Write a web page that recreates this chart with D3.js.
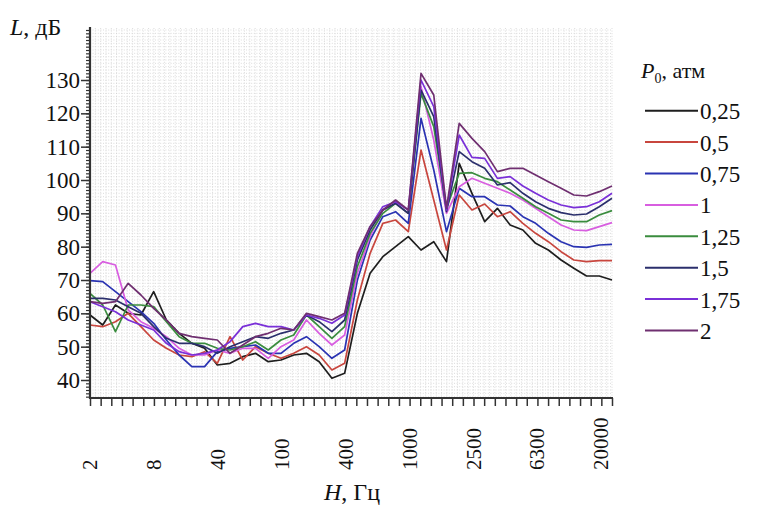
<!DOCTYPE html>
<html><head><meta charset="utf-8">
<script src="https://cdn.jsdelivr.net/npm/d3@7"></script>
<style>
html,body{margin:0;padding:0;background:#fff;}
svg{display:block;}
</style></head>
<body>
<svg id="chart" width="761" height="513"></svg>
<script>
// ---- data ----
const freqs = ["1.6","2","2.5","3.15","4","5","6.3","8","10","12.5","16","20","25","31.5","40","50","63","80","100","125","160","200","250","315","400","500","630","800","1000","1250","1600","2000","2500","3150","4000","5000","6300","8000","10000","12500","16000","20000"];
const seriesNames = ["0,25","0,5","0,75","1","1,25","1,5","1,75","2"];
const s025 = [59.5,56.5,62.5,60,59.5,66.5,58,54,51,49.5,44.5,45,47,48,45.5,46,47.5,48,45.5,40.5,42,60,72,77,80,83,79,81.5,75.5,105,96,87.5,91.5,86.5,85,81,79,76,73.5,71.2,71.2,70];
const s05  = [56.5,56,57.5,60,56,52,49.5,47.5,47,48.5,45,53,46,50,48,46.5,48,50,47.5,43,45,64,78,87,88,84.5,109,94,79,95.5,91,92.8,89,90.5,87,84,81.5,78.5,76,75.5,75.8,75.8];
const s075 = [69.8,69.5,66.5,63.5,60.5,57,52,47.5,44,44,48.5,49.5,50,50.5,48,48,51,53,50,46.5,49,70,82,89,90.5,87,118.5,103,84.5,97.5,95,95,92.5,92.2,89,87,84,81.5,80,79.8,80.5,80.7];
const s1   = [72,75.5,74.5,61,57.5,55.5,53,49.5,47.5,47.5,49,48,49.5,49.5,46.5,50,52,58,54,50.5,53.5,72,83,91,93,90,128,112,90,98,100.5,99,97.5,96,94,91.5,89,86.5,85,84.8,86,87.2];
const s125 = [66,62.5,54.5,62.5,62.5,62,57.5,53,51,51,49.5,49,50,51.5,49,52,53.5,59.5,56,52.5,56,74,84,90,93,90,126,116,91.5,102,102.2,100.5,99.5,97,94.5,92,90,88,87.5,87.5,89.5,90.8];
const s15  = [64.5,64.5,64,62,60,56,52.5,51,51,50,48,50,51.5,53,52.5,54,55,59.5,57.5,54.5,58,76,85,91,93,90,127,119,90.5,108.5,105.5,103.5,98.5,99.2,96,93.5,91.5,90.2,89.5,89.8,92,94.5];
const s175 = [63.5,62,60.5,58,56.5,55,51,48.5,47.5,48,49,51.5,56,57,56,56,55,59.5,58.5,57,59.5,77,86,92,93.5,91,130,122,91,113.5,106.8,106.5,100.5,101,98.2,96,94,92.5,91.7,92,93.5,96];
const s2   = [63.5,63,63.5,69,65.5,61.5,58,54,53,52.5,52,48,50.5,53,54,55.5,55,60,59,58,60,78,86,91,94,91,132,125.5,91.5,117,112.5,108.5,102.5,103.5,103.5,101.5,99.5,97.5,95.5,95.2,96.5,98.2];
const seriesValues = [s025,s05,s075,s1,s125,s15,s175,s2];
const colors = ["#1e1e1e","#c8463e","#2a33b2","#d85ee0","#3a8c3e","#2b2f6c","#7a30d8","#6f2f70"];
const yMajorTicks = [40,50,60,70,80,90,100,110,120,130];
const xTickCount = 50;
const xTickLabels = ["2","8","40","100","400","1000","2500","6300","20000"];
const xLabelEvery = 6;

// ---- layout ----
const FONT = '"Liberation Serif","DejaVu Serif",serif';
const L = 90, R = 612, T = 28, B = 398;
const svg = d3.select("#chart").attr("font-family", FONT);
const x = d3.scalePoint().domain(freqs).range([L, R]);
const xt = d3.scaleLinear().domain([0, xTickCount - 1]).range([L, R]);
const y = d3.scaleLinear().domain([34.6, 145.6]).range([B, T]);

// grid
const grid = svg.append("g");
const halfTicks = d3.range(0, xTickCount - 0.5, 0.5).slice(1);
grid.selectAll("line.v").data(halfTicks).join("line")
  .attr("x1", d => xt(d)).attr("x2", d => xt(d)).attr("y1", T).attr("y2", B)
  .attr("stroke", "#cdcdcd").attr("stroke-width", 0.7).attr("stroke-dasharray", "1,1.6");
grid.selectAll("line.h").data(d3.range(35, 146, 1)).join("line")
  .attr("x1", L).attr("x2", R).attr("y1", d => y(d)).attr("y2", d => y(d))
  .attr("stroke", "#cdcdcd").attr("stroke-width", 0.7).attr("stroke-dasharray", "1,1.6");

// series lines
const line = d3.line().x((d, i) => x(freqs[i])).y(d => y(d));
svg.append("g").selectAll("path").data(seriesValues).join("path")
  .attr("d", d => line(d)).attr("fill", "none")
  .attr("stroke", (d, i) => colors[i]).attr("stroke-width", 1.7)
  .attr("stroke-linejoin", "round");

// y axis minor ticks
const yMinor = svg.append("g").attr("transform", `translate(${L},0)`)
  .call(d3.axisLeft(y).tickValues(d3.range(35, 146, 1)).tickSize(4).tickFormat(""));
yMinor.select(".domain").remove();
yMinor.selectAll("line").attr("stroke", "#333").attr("stroke-width", 1.2);
// y axis major
const yAx = svg.append("g").attr("transform", `translate(${L},0)`)
  .call(d3.axisLeft(y).tickValues(yMajorTicks).tickSize(9).tickPadding(1));
yAx.attr("font-family", FONT).attr("font-size", 23);
yAx.select(".domain").remove();
yAx.selectAll("line").attr("stroke", "#333").attr("stroke-width", 1.5);
yAx.selectAll("text").attr("fill", "#111");

// x axis ticks
const xAx = svg.append("g").attr("transform", `translate(0,${B})`)
  .call(d3.axisBottom(xt).tickValues(d3.range(xTickCount)).tickSize(8).tickFormat(""));
xAx.select(".domain").remove();
xAx.selectAll("line").attr("stroke", "#333").attr("stroke-width", 1.5);

// axis lines
svg.append("line").attr("x1", L).attr("x2", L).attr("y1", T - 1).attr("y2", B + 1)
  .attr("stroke", "#333").attr("stroke-width", 2.2);
svg.append("line").attr("x1", L - 1).attr("x2", R + 1).attr("y1", B).attr("y2", B)
  .attr("stroke", "#333").attr("stroke-width", 2.2);

// x tick labels (rotated)
svg.append("g").selectAll("text").data(xTickLabels).join("text")
  .attr("transform", (d, i) => `translate(${xt(i * xLabelEvery)},470) rotate(-90)`)
  .attr("text-anchor", "start").attr("dominant-baseline", "central")
  .attr("font-size", 21).attr("fill", "#111").text(d => d);

// axis titles
const xt1 = svg.append("text").attr("x", 352).attr("y", 500).attr("text-anchor", "middle")
  .attr("font-size", 24).attr("fill", "#111");
xt1.append("tspan").attr("font-style", "italic").text("H");
xt1.append("tspan").text(", Гц");
const yt1 = svg.append("text").attr("x", 10).attr("y", 35).attr("font-size", 24).attr("fill", "#111");
yt1.append("tspan").attr("font-style", "italic").text("L");
yt1.append("tspan").text(", дБ");

// legend
const lt = svg.append("text").attr("x", 641).attr("y", 78).attr("font-size", 22).attr("fill", "#111");
lt.append("tspan").attr("font-style", "italic").text("P");
lt.append("tspan").attr("font-size", 14).attr("dy", 5).text("0");
lt.append("tspan").attr("dy", -5).text(", атм");
const lg = svg.append("g").selectAll("g").data(seriesNames).join("g")
  .attr("transform", (d, i) => `translate(0,${110.7 + i * 31.4})`);
lg.append("line").attr("x1", 645).attr("x2", 698).attr("y1", 0).attr("y2", 0)
  .attr("stroke", (d, i) => colors[i]).attr("stroke-width", 2);
lg.append("text").attr("x", 700).attr("y", 1).attr("dominant-baseline", "central")
  .attr("font-size", 23).attr("fill", "#111").text(d => d);
</script>
</body></html>
